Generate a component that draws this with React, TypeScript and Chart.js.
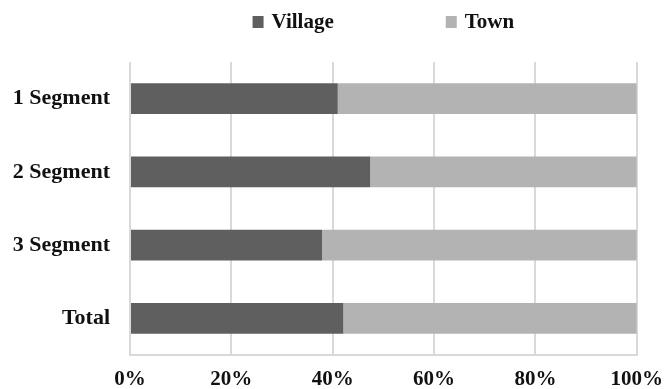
import React, { useEffect, useRef } from "react";
import { Chart, registerables } from "chart.js";

Chart.register(...registerables);

// Share of respondents (%) by settlement type, per segment
const categories = ["1 Segment", "2 Segment", "3 Segment", "Total"];
const villageShare = [41.0, 47.4, 37.9, 42.1];
const townShare = [59.0, 52.6, 62.1, 57.9];
const seriesNames = ["Village", "Town"];

const VILLAGE_COLOR = "#5f5f5f";
const TOWN_COLOR = "#b3b3b3";
const GRID_COLOR = "#d9d9d9";
const TEXT_COLOR = "#111";
const FONT_FAMILY = "'Liberation Serif', 'Times New Roman', serif";

const WIDTH = 668;
const HEIGHT = 389;
const AXIS_LEFT = 130;
const AXIS_BOTTOM_SPACE = 34;

// Legend centred over the plot area, drawn on the chart canvas
const centeredLegend = {
  id: "centeredLegend",
  afterDraw(chart: any) {
    const { ctx, chartArea } = chart;
    const BOX_W = 11;
    const BOX_H = 12;
    const BOX_GAP = 8;
    const ITEM_GAP = 112;
    const BASELINE = 28;
    ctx.save();
    ctx.font = `bold 21px ${FONT_FAMILY}`;
    ctx.textAlign = "left";
    ctx.textBaseline = "alphabetic";
    const items = chart.data.datasets.map((ds: any) => ({
      text: ds.label as string,
      color: ds.backgroundColor as string,
    }));
    const widths = items.map(
      (it: any) => BOX_W + BOX_GAP + ctx.measureText(it.text).width
    );
    const total =
      widths.reduce((a: number, b: number) => a + b, 0) +
      ITEM_GAP * (items.length - 1);
    let x = (chartArea.left + chartArea.right) / 2 - total / 2;
    items.forEach((it: any, i: number) => {
      ctx.fillStyle = it.color;
      ctx.fillRect(x, BASELINE - 12, BOX_W, BOX_H);
      ctx.fillStyle = TEXT_COLOR;
      ctx.fillText(it.text, x + BOX_W + BOX_GAP, BASELINE);
      x += widths[i] + ITEM_GAP;
    });
    ctx.restore();
  },
};

export default function App() {
  const canvasRef = useRef<HTMLCanvasElement | null>(null);

  useEffect(() => {
    if (!canvasRef.current) return;
    const chart = new Chart(canvasRef.current, {
      type: "bar",
      data: {
        labels: categories,
        datasets: [
          {
            label: seriesNames[0],
            data: villageShare,
            backgroundColor: VILLAGE_COLOR,
            barPercentage: 0.42,
            categoryPercentage: 1,
          },
          {
            label: seriesNames[1],
            data: townShare,
            backgroundColor: TOWN_COLOR,
            barPercentage: 0.42,
            categoryPercentage: 1,
          },
        ],
      },
      options: {
        indexAxis: "y",
        animation: false,
        responsive: true,
        maintainAspectRatio: false,
        layout: { padding: { top: 62, right: 31, bottom: 0, left: 0 } },
        plugins: {
          legend: { display: false },
          tooltip: { enabled: false },
        },
        scales: {
          x: {
            stacked: true,
            min: 0,
            max: 100,
            grid: { color: GRID_COLOR, lineWidth: 2, drawTicks: false },
            border: { color: GRID_COLOR, width: 2 },
            ticks: {
              stepSize: 20,
              padding: 5,
              maxRotation: 0,
              color: TEXT_COLOR,
              font: { family: FONT_FAMILY, size: 21, weight: "bold", lineHeight: 1.86 },
              callback: (v: any) => `${v}%`,
            },
            afterFit: (scale: any) => {
              scale.height = AXIS_BOTTOM_SPACE;
            },
          },
          y: {
            stacked: true,
            grid: { display: false, drawTicks: false },
            border: { display: false },
            ticks: {
              padding: 20,
              color: TEXT_COLOR,
              font: { family: FONT_FAMILY, size: 22, weight: "bold", lineHeight: 1 },
            },
            afterFit: (scale: any) => {
              scale.width = AXIS_LEFT;
            },
          },
        },
      },
      plugins: [centeredLegend],
    });
    return () => chart.destroy();
  }, []);

  return (
    <div
      style={{
        position: "fixed",
        left: 0,
        top: 0,
        width: WIDTH,
        height: HEIGHT,
        background: "#fff",
      }}
    >
      <canvas ref={canvasRef} />
    </div>
  );
}
